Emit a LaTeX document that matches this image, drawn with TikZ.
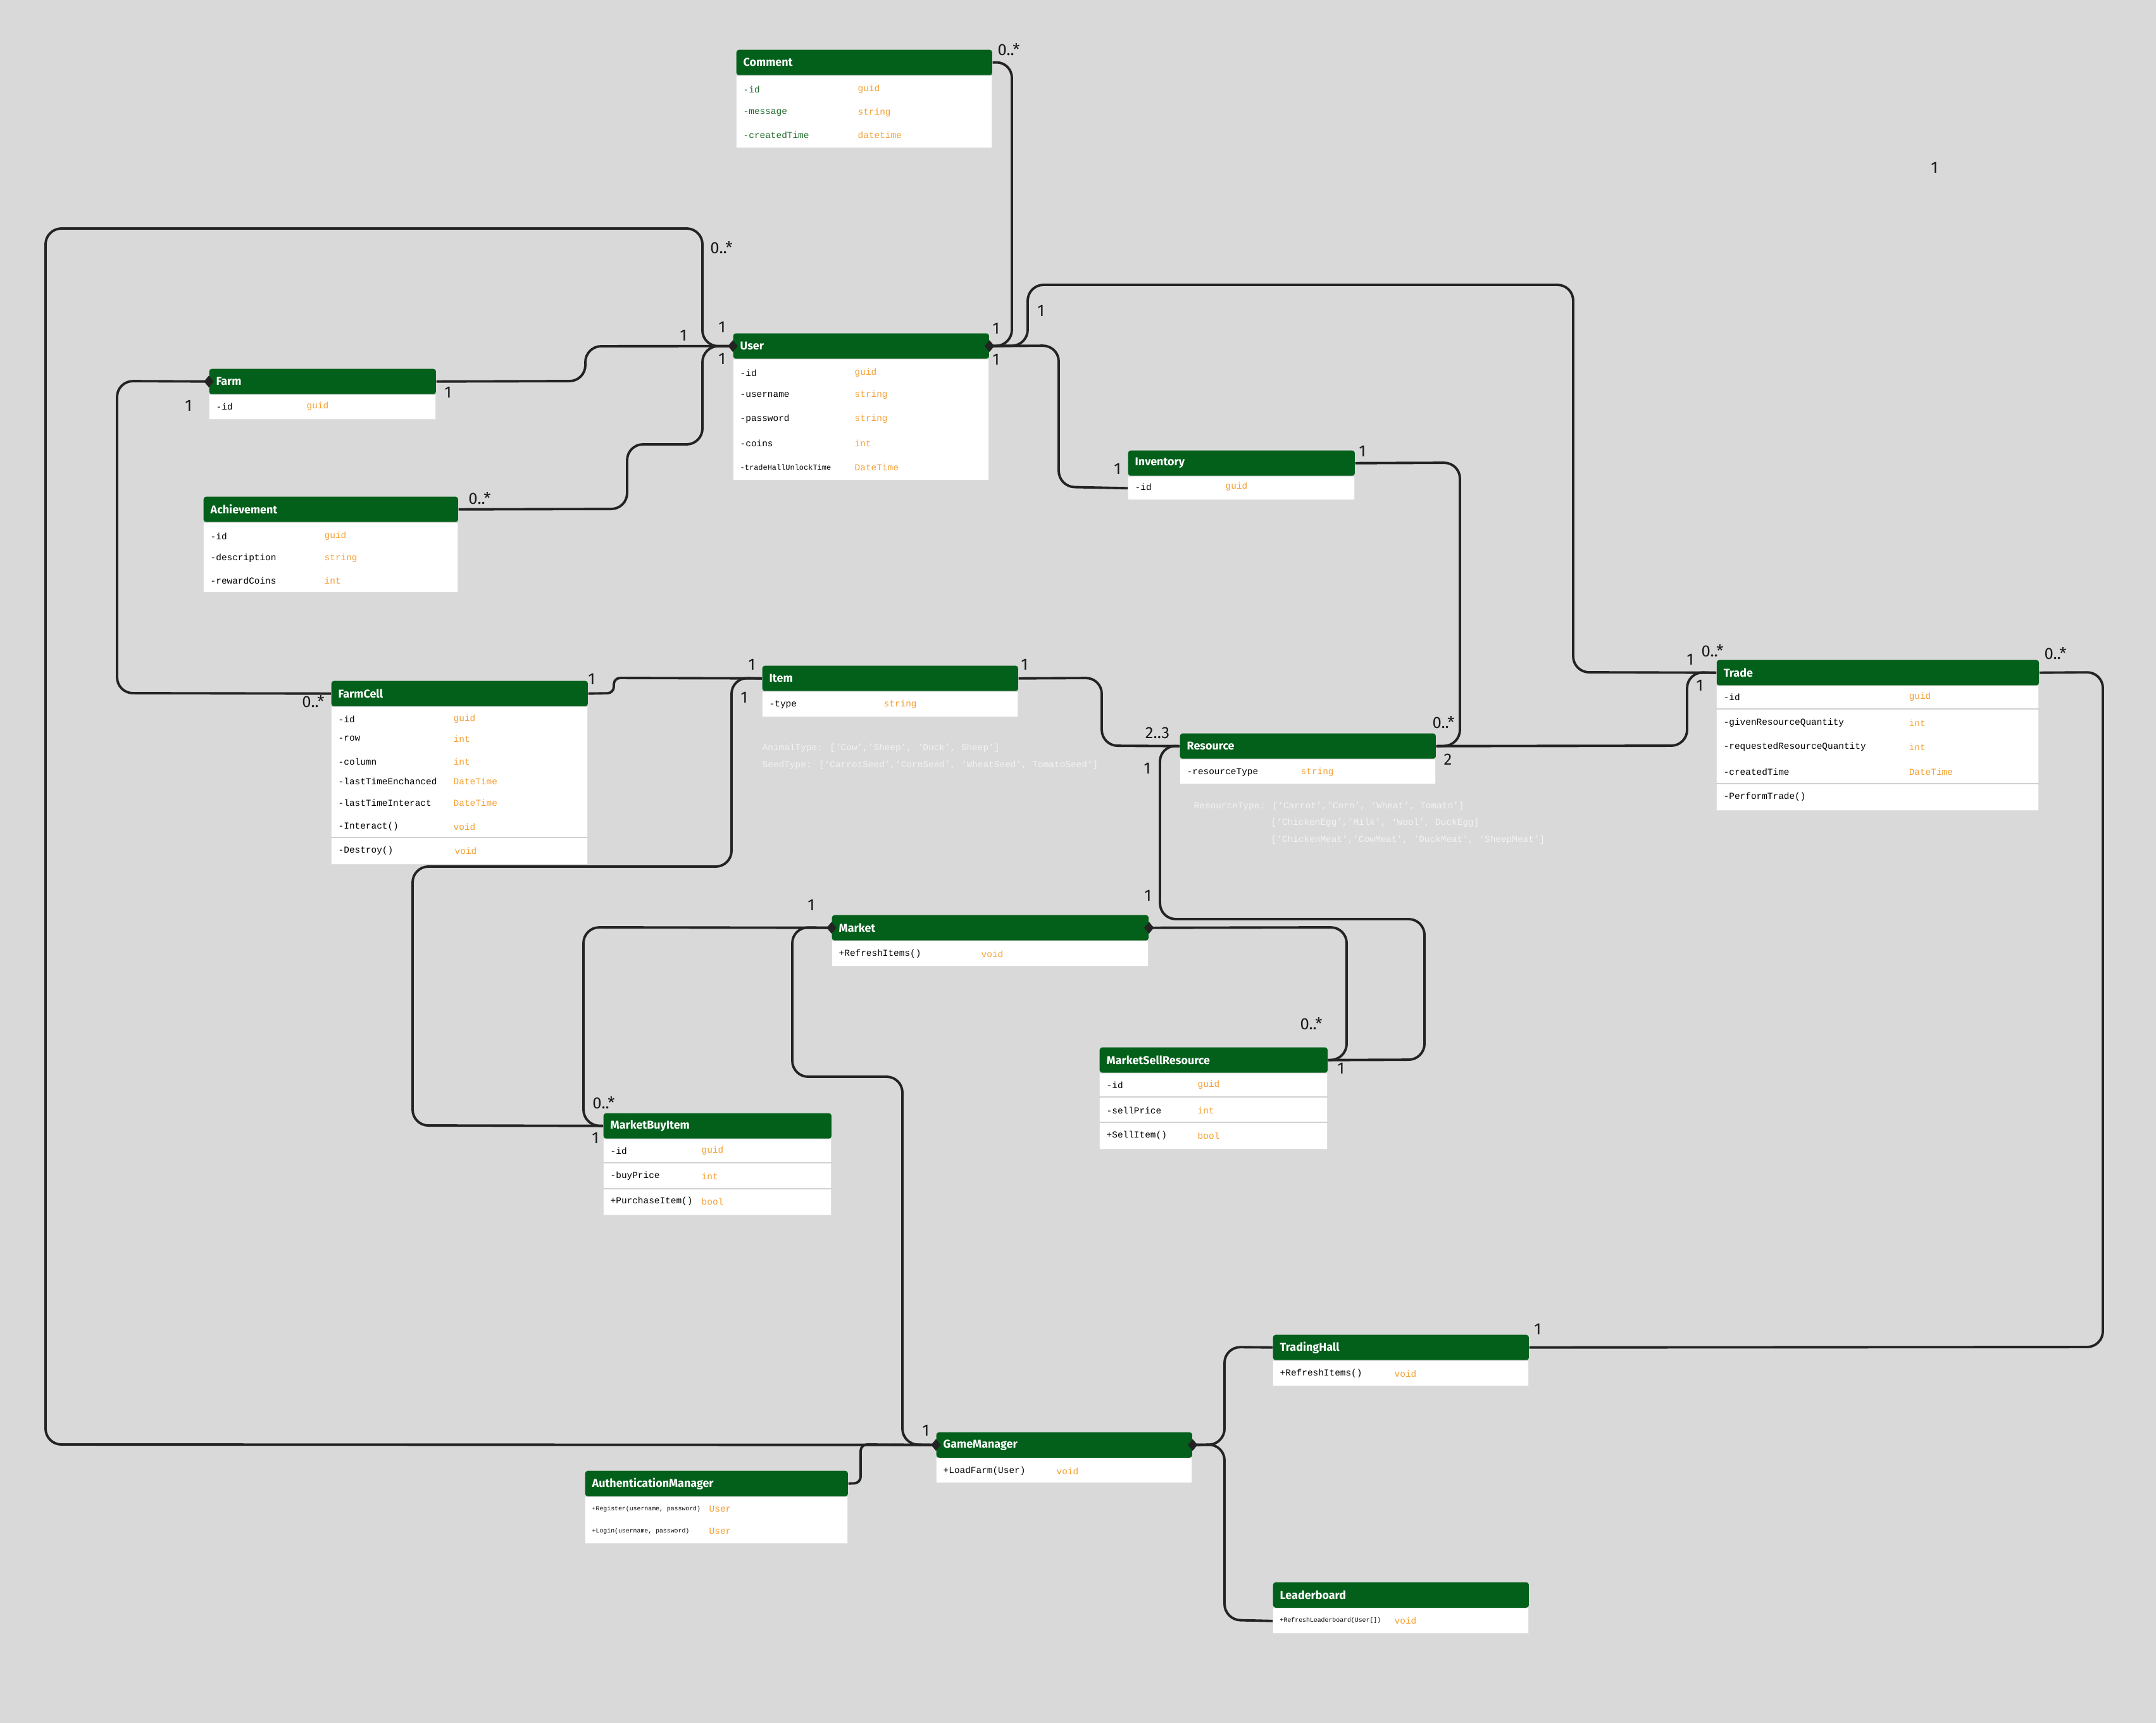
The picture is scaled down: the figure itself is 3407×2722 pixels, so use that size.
\documentclass[tikz,border=0pt]{standalone}
\usepackage{fontspec}
\setmainfont{Fira Sans}
\newfontfamily\codefont{Liberation Mono}
\usetikzlibrary{shapes.geometric}

\definecolor{canvas}{HTML}{D9D9D9}
\definecolor{hdrgreen}{HTML}{03601B}
\definecolor{typeorange}{HTML}{F5A032}
\definecolor{linegray}{HTML}{232323}
\definecolor{attrgreen}{HTML}{1F6B2A}
\definecolor{notewhite}{HTML}{F3F3F3}
\newcommand\smallattr{\fontsize{3.4}{4}\selectfont}
\newcommand\tinyattr{\fontsize{2.8}{3.4}\selectfont}

\begin{document}
\begin{tikzpicture}[x=0.01cm, y=-0.01cm]
    \tikzstyle{header}=[anchor=north west, fill=hdrgreen, text=white, font=\bfseries\fontsize{5.1}{6}\selectfont, minimum height=0.4cm, inner xsep=0.11cm, inner ysep=0pt, align=left, rounded corners=0.04cm]
    \tikzstyle{body}=[anchor=north west, fill=white, draw=black!12, line width=0.2pt, inner sep=0pt]
    \tikzstyle{attr}=[anchor=west, inner sep=0pt, font=\codefont\fontsize{4.1}{5}\selectfont]
    \tikzstyle{type}=[attr, text=typeorange]
    \tikzstyle{note}=[attr, text=notewhite]
    \tikzstyle{mult}=[inner sep=0pt, font=\fontsize{7.3}{8}\selectfont, text=black!90]
    \tikzstyle{conn}=[draw=linegray, line width=1.1pt, rounded corners=0.25cm]
    \tikzstyle{dia}=[diamond, fill=linegray, inner sep=0pt, minimum width=0.16cm, minimum height=0.19cm]
    \tikzstyle{sep}=[draw=black!18, line width=0.3pt]

    \fill[canvas] (0,0) rectangle (3407,2722);

    % classes: name / left / top / width / body height
    \foreach \name/\x/\y/\w/\h [evaluate=\w as \bw using \w/100, evaluate=\h as \bh using \h/100, evaluate=\w as \tw using \w/100-0.22] in {
        Comment/1163/78/404/114, User/1158/526/404/190, Farm/330/582/358/39,
        Achievement/321/784/402/110, Inventory/1782/711/358/37, FarmCell/523/1075/405/248,
        Item/1204/1051/404/40, Resource/1864/1158/404/39, Trade/2712/1042/509/196,
        Market/1314/1445/500/40, MarketSellResource/1737/1654/360/119, MarketBuyItem/953/1758/360/119,
        TradingHall/2011/2108/404/40, GameManager/1479/2262/404/39,
        AuthenticationManager/924/2323/415/74, Leaderboard/2011/2499/404/40}
    {
        \node[header, text width=\tw cm] (\name) at (\x,\y) {\name};
        \node[body, minimum width=\bw cm, minimum height=\bh cm] (\name-b) at (\name.south west) {};
    }

    % rows: class / y / member / type x / type
    \foreach \c/\y/\n/\tx/\t [count=\i] in {
        Comment/141/{\color{attrgreen}-id}/1355/guid, Comment/178/{\color{attrgreen}-message}/1355/string,
        Comment/213/{\color{attrgreen}-createdTime}/1355/datetime,
        User/589/-id/1350/guid, User/624/-username/1350/string, User/662/-password/1350/string,
        User/700/-coins/1350/int, User/738/{\smallattr -tradeHallUnlockTime}/1350/DateTime,
        Farm/642/-id/484/guid,
        Achievement/847/-id/512/guid, Achievement/882/-description/512/string, Achievement/917/-rewardCoins/512/int,
        Inventory/769/-id/1936/guid,
        FarmCell/1136/-id/716/guid, FarmCell/1167/-row/716/int, FarmCell/1203/-column/716/int,
        FarmCell/1234/-lastTimeEnchanced/716/DateTime, FarmCell/1268/-lastTimeInteract/716/DateTime,
        FarmCell/1306/-Interact()/716/void, FarmCell/1344/-Destroy()/718/void,
        Item/1113/-type/1396/string,
        Resource/1220/-resourceType/2055/string,
        Trade/1101/-id/3016/guid, Trade/1142/-givenResourceQuantity/3016/int,
        Trade/1180/-requestedResourceQuantity/3016/int, Trade/1219/-createdTime/3016/DateTime,
        Trade/1259/-PerformTrade()/3016/{},
        Market/1507/+RefreshItems()/1550/void,
        MarketSellResource/1714/-id/1892/guid, MarketSellResource/1754/-sellPrice/1892/int,
        MarketSellResource/1794/+SellItem()/1892/bool,
        MarketBuyItem/1818/-id/1108/guid, MarketBuyItem/1858/-buyPrice/1108/int,
        MarketBuyItem/1898/+PurchaseItem()/1108/bool,
        TradingHall/2170/+RefreshItems()/2203/void,
        GameManager/2324/+LoadFarm(User)/1669/void,
        AuthenticationManager/2384/{\tinyattr +Register(username, password)}/1120/User,
        AuthenticationManager/2419/{\tinyattr +Login(username, password)}/1120/User,
        Leaderboard/2560/{\tinyattr +RefreshLeaderboard(User[])}/2203/void}
    {
        \node[attr, xshift=0.11cm] (\c-a\i) at (\c.west |- 0,\y) {\n};
        \node[type] (\c-t\i) at (\tx,\y) {\t};
    }

    \foreach \c/\y in {Trade/1120, Trade/1238, MarketSellResource/1733, MarketSellResource/1773,
        MarketBuyItem/1837, MarketBuyItem/1878, FarmCell/1323}
        \draw[sep] (\c.west |- 0,\y) -- (\c.east |- 0,\y);

    % notes
    \node[note] (note1) at (1204,1182) {AnimalType: [‘Cow’,’Sheep’, ‘Duck’, Sheep’]};
    \node[note] (note2) at (1204,1209) {SeedType: [‘CarrotSeed’,’CornSeed’, ‘WheatSeed’, TomatoSeed’]};
    \node[note] (note3) at (1886,1274) {ResourceType: [‘Carrot’,’Corn’, ‘Wheat’, Tomato’]};
    \node[note] (note4) at (2008,1300) {[‘ChickenEgg’,’Milk’, ‘Wool’, DuckEgg]};
    \node[note] (note5) at (2008,1327) {[‘ChickenMeat’,’CowMeat’, ‘DuckMeat’, ‘SheepMeat’]};

    % connectors
    \draw[conn] (Farm.east) -- (925,602) -- (925,547) -- (User.west);
    \draw[conn] (Achievement.east) -- (991,804) -- (991,702) -- (1110,702) -- (1110,547) -- (User.west);
    \draw[conn] (GameManager.west) -- (72,2282) -- (72,361) -- (1110,361) -- (1110,547) -- (User.west);
    \draw[conn] (Comment.east) -- (1599,98) -- (1599,546) -- (User.east);
    \draw[conn] (User.east) -- (1624,546) -- (1624,450) -- (2486,450) -- (2486,1062) -- (Trade.west);
    \draw[conn] (User.east) -- (1673,546) -- (1673,769) -- (Inventory-b.west);
    \draw[conn] (Inventory.east) -- (2307,731) -- (2307,1178) -- (Resource.east);
    \draw[conn] (Resource.east) -- (2666,1178) -- (2666,1062) -- (Trade.west);
    \draw[conn, rounded corners=0.1cm] (FarmCell.east) -- (970,1095) -- (970,1071) -- (Item.west);
    \draw[conn] (Farm.west) -- (185,602) -- (185,1095) -- (FarmCell.west);
    \draw[conn] (Item.east) -- (1741,1071) -- (1741,1178) -- (Resource.west);
    \draw[conn] (Item.west) -- (1156,1071) -- (1156,1369) -- (652,1369) -- (652,1778) -- (MarketBuyItem.west);
    \draw[conn] (Market.west) -- (922,1465) -- (922,1778) -- (MarketBuyItem.west);
    \draw[conn] (GameManager.west) -- (1426,2282) -- (1426,1701) -- (1252,1701) -- (1252,1465) -- (Market.west);
    \draw[conn] (Market.east) -- (2128,1465) -- (2128,1674) -- (MarketSellResource.east);
    \draw[conn] (Resource.west) -- (1833,1178) -- (1833,1452) -- (2251,1452) -- (2251,1674) -- (MarketSellResource.east);
    \draw[conn] (Trade.east) -- (3323,1062) -- (3323,2128) -- (TradingHall.east);
    \draw[conn] (GameManager.east) -- (1935,2282) -- (1935,2128) -- (TradingHall.west);
    \draw[conn] (GameManager.east) -- (1935,2282) -- (1935,2559) -- (Leaderboard-b.west);
    \draw[conn, rounded corners=0.1cm] (AuthenticationManager.east) -- (1360,2343) -- (1360,2282) -- (GameManager.west);

    \foreach \a [count=\i] in {User.west, User.east, Farm.west, Market.west, Market.east, GameManager.west, GameManager.east}
        \node[dia] (d\i) at (\a) {};

    % multiplicities
    \foreach \t/\x/\y [count=\i] in {{0..*}/1594/78, {0..*}/1140/391, 1/1141/517, 1/1141/567, 1/1080/530,
        1/708/620, 1/298/641, {0..*}/758/787, 1/1574/519, 1/1574/568, 1/1645/491, 1/2153/713,
        1/1766/741, 1/3057/265, 1/935/1073, {0..*}/495/1108, 1/1188/1050, 1/1176/1102, 1/1619/1050,
        {2..3}/1829/1158, 1/1813/1214, {0..*}/2281/1141, 2/2288/1200, 1/2671/1042, {0..*}/2706/1028,
        1/2686/1083, {0..*}/3248/1032, 1/1282/1430, 1/1814/1415, {0..*}/2072/1617, 1/2119/1688,
        {0..*}/954/1742, 1/941/1798, 1/2430/2100, 1/1463/2260}
        \node[mult] (m\i) at (\x,\y) {\t};
\end{tikzpicture}
\end{document}
